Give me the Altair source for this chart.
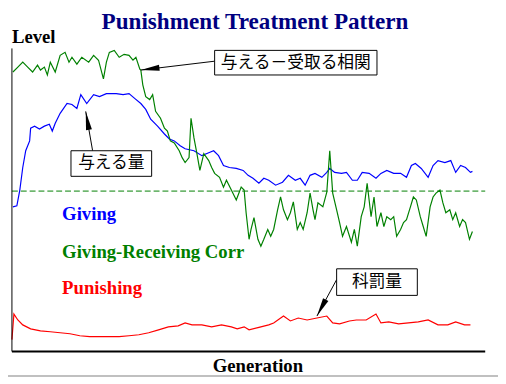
import altair as alt
import pandas as pd

# ---- data ----
giving_gen = [1, 5, 8, 11, 14, 18, 19, 23, 28, 33, 38, 41, 44, 49, 56, 61, 66, 70, 76, 83,
              89, 96, 106, 113, 119, 125, 131, 136, 141, 148, 155, 160, 165, 171, 176, 185, 193, 200, 205, 210,
              215, 221, 228, 235, 240, 245, 251, 256, 261, 268, 275, 281, 288, 293, 298, 303, 308, 315, 320, 323,
              328, 335, 340, 346, 351, 356, 363, 370, 375, 381, 388, 395, 401, 406, 410, 416, 423, 428, 433, 440,
              446, 451, 456, 461, 466, 468]
giving_lvl = [147, 148, 164, 187, 204, 214, 227, 229, 226, 229, 231, 224, 232, 242, 252, 251, 247, 261, 252, 261,
              259, 262, 262, 261, 262, 257, 252, 246, 236, 229, 221, 216, 214, 209, 206, 204, 199, 202, 204, 199,
              189, 187, 186, 184, 179, 176, 171, 176, 174, 169, 172, 179, 174, 176, 169, 179, 181, 177, 182, 186,
              182, 181, 182, 174, 174, 182, 181, 176, 181, 184, 181, 181, 177, 189, 191, 186, 177, 189, 194, 192,
              194, 182, 189, 187, 182, 183]

corr_gen = [1, 6, 11, 16, 21, 26, 29, 33, 36, 39, 44, 49, 54, 58, 61, 66, 71, 78, 83, 88,
            93, 96, 99, 104, 109, 114, 119, 123, 126, 130, 131, 133, 136, 140, 143, 146, 151, 155, 158, 161,
            165, 170, 173, 176, 180, 182, 185, 188, 191, 195, 200, 203, 206, 211, 215, 218, 223, 228, 233, 236,
            238, 241, 243, 246, 250, 253, 256, 260, 263, 266, 270, 273, 276, 280, 283, 286, 290, 293, 296, 300,
            303, 306, 308, 311, 316, 320, 323, 326, 330, 333, 336, 340, 345, 348, 351, 355, 358, 361, 365, 368,
            371, 375, 378, 381, 385, 388, 391, 395, 398, 401, 405, 408, 411, 415, 418, 421, 425, 428, 431, 435,
            438, 441, 445, 448, 451, 455, 458, 461, 465, 468]
corr_lvl = [284, 289, 294, 289, 284, 291, 286, 289, 281, 294, 284, 301, 304, 294, 299, 292, 299, 294, 301, 296,
            277, 294, 304, 306, 299, 302, 301, 296, 299, 287, 286, 271, 259, 256, 261, 244, 237, 227, 224, 214,
            212, 204, 197, 192, 197, 237, 217, 201, 184, 201, 194, 187, 181, 177, 167, 174, 164, 154, 167, 164,
            141, 114, 124, 136, 114, 107, 114, 124, 117, 124, 144, 157, 144, 134, 141, 152, 124, 131, 124, 141,
            161, 144, 134, 151, 147, 162, 204, 161, 144, 131, 117, 127, 111, 124, 107, 137, 147, 171, 137, 157,
            127, 141, 127, 137, 134, 137, 117, 124, 131, 134, 147, 157, 154, 137, 127, 117, 147, 157, 161, 164,
            151, 141, 144, 134, 141, 127, 134, 131, 114, 122]

pun_gen = [0, 2, 6, 11, 19, 29, 39, 49, 59, 69, 79, 89, 99, 109, 119, 129, 139, 149, 159, 169,
           176, 183, 193, 203, 213, 223, 229, 236, 241, 253, 261, 266, 276, 283, 291, 300, 310, 320, 326, 333,
           343, 350, 360, 370, 375, 383, 393, 403, 413, 423, 433, 443, 451, 460, 466]
pun_lvl = [12, 38, 32, 27, 23, 21, 20, 19, 18, 16, 15, 15, 15, 15, 16, 17, 19, 22, 25, 26,
           29, 27, 27, 25, 27, 25, 23, 25, 22, 25, 27, 29, 36, 31, 34, 32, 34, 36, 29, 28,
           31, 32, 32, 38, 29, 30, 28, 29, 30, 32, 27, 27, 30, 27, 27]

box_text = ["与える－受取る相関", "与える量", "科罰量"]
box_x1 = [206, 60, 330]
box_x2 = [371, 142, 412]
box_y1 = [281, 178, 57]
box_y2 = [306, 204, 84]
arrow_from_x = [206, 82, 330]
arrow_from_y = [295, 204, 73]
arrow_tip_x = [131, 75, 310]
arrow_tip_y = [286, 244, 36]
arrow_angle = [263, 350, 208]

legend_text = ["Giving", "Giving-Receiving Corr", "Punishing"]
legend_color = ["#0000FF", "#008000", "#FF0000"]
legend_x = [51, 51, 51]
legend_y = [134, 95, 58]

reference_level = 163

# ---- tables ----
series = pd.concat([
    pd.DataFrame({"gen": giving_gen, "lvl": giving_lvl, "s": "Giving"}),
    pd.DataFrame({"gen": corr_gen, "lvl": corr_lvl, "s": "Giving-Receiving Corr"}),
    pd.DataFrame({"gen": pun_gen, "lvl": pun_lvl, "s": "Punishing"}),
])
boxes = pd.DataFrame({"t": box_text, "x1": box_x1, "x2": box_x2, "y1": box_y1, "y2": box_y2})
boxes["xc"] = (boxes.x1 + boxes.x2) / 2
boxes["yc"] = (boxes.y1 + boxes.y2) / 2
arrows = pd.DataFrame({"x": arrow_from_x, "y": arrow_from_y, "x2": arrow_tip_x, "y2": arrow_tip_y,
                       "angle": arrow_angle})
legend = pd.DataFrame({"t": legend_text, "c": legend_color, "x": legend_x, "y": legend_y})

xs = alt.Scale(domain=[0, 481], nice=False, zero=False)
ys = alt.Scale(domain=[0, 308], nice=False, zero=False)

def X(f, **kw):
    return alt.X(f, scale=xs, axis=None, **kw)

def Y(f, **kw):
    return alt.Y(f, scale=ys, axis=None, **kw)

# axis lines (y axis thin, x axis thicker)
axis_lines = alt.Chart(pd.DataFrame({
    "a": [0, 0], "b": [0, 481], "c": [0, 0], "d": [308, 0], "w": [1, 2]
})).mark_rule(color="black").encode(
    x=X("a:Q"), x2="b:Q", y=Y("c:Q"), y2="d:Q",
    strokeWidth=alt.StrokeWidth("w:Q", scale=None),
)

dashed = alt.Chart(pd.DataFrame({"a": [0], "b": [481], "l": [reference_level]})).mark_rule(
    color="#008000", strokeDash=[6, 3], strokeWidth=1
).encode(x=X("a:Q"), x2="b:Q", y=Y("l:Q"))

bottom_line = alt.Chart(pd.DataFrame({"a": [-4], "b": [494], "l": [-25]})).mark_rule(
    color="#C0C0C0", strokeWidth=2
).encode(x=X("a:Q"), x2="b:Q", y=Y("l:Q"))

lines = alt.Chart(series).mark_line(strokeWidth=1.2, interpolate="linear").encode(
    x=X("gen:Q"), y=Y("lvl:Q"),
    color=alt.Color("s:N", scale=alt.Scale(domain=legend_text, range=legend_color), legend=None),
    detail="s:N",
)

arrow_lines = alt.Chart(arrows).mark_rule(color="black", strokeWidth=1).encode(
    x=X("x:Q"), y=Y("y:Q"), x2="x2:Q", y2="y2:Q")

heads = alt.Chart(arrows).mark_point(
    shape="M0,0L0.32,2L-0.32,2Z", filled=True, color="black", opacity=1, size=360, strokeWidth=0
).encode(x=X("x2:Q"), y=Y("y2:Q"), angle=alt.Angle("angle:Q", scale=None))

rects = alt.Chart(boxes).mark_rect(fill="white", stroke="black", strokeWidth=1).encode(
    x=X("x1:Q"), x2="x2:Q", y=Y("y1:Q"), y2="y2:Q")

box_labels = alt.Chart(boxes).mark_text(
    font="Noto Sans CJK JP", fontSize=17, color="black", align="center", baseline="middle"
).encode(x=X("xc:Q"), y=Y("yc:Q"), text="t:N")

legend_labels = alt.Chart(legend).mark_text(
    font="Liberation Serif", fontSize=19, fontWeight="bold", align="left", baseline="alphabetic"
).encode(x=X("x:Q"), y=Y("y:Q"), text="t:N", color=alt.Color("c:N", scale=None))

title = alt.Chart(pd.DataFrame({"x": [247], "y": [328], "t": ["Punishment Treatment Pattern"]})).mark_text(
    font="Liberation Serif", fontSize=23.5, fontWeight="bold", color="#000080", align="center",
    baseline="alphabetic"
).encode(x=X("x:Q"), y=Y("y:Q"), text="t:N")

ylabel = alt.Chart(pd.DataFrame({"x": [0], "y": [314], "t": ["Level"]})).mark_text(
    font="Liberation Serif", fontSize=19, fontWeight="bold", color="black", align="left",
    baseline="alphabetic"
).encode(x=X("x:Q"), y=Y("y:Q"), text="t:N")

xlabel = alt.Chart(pd.DataFrame({"x": [250], "y": [-21], "t": ["Generation"]})).mark_text(
    font="Liberation Serif", fontSize=19, fontWeight="bold", color="black", align="center",
    baseline="alphabetic"
).encode(x=X("x:Q"), y=Y("y:Q"), text="t:N")

chart = alt.layer(
    dashed, bottom_line, lines, axis_lines, arrow_lines, heads, rects, box_labels,
    legend_labels, title, ylabel, xlabel
).properties(
    width=481, height=308,
    padding={"left": 4, "top": 38, "right": 13, "bottom": 30},
    autosize=alt.AutoSizeParams(type="none"),
    background="white",
).configure_view(stroke=None)

chart.save("out.html", embed_options={"renderer": "svg", "actions": False})
